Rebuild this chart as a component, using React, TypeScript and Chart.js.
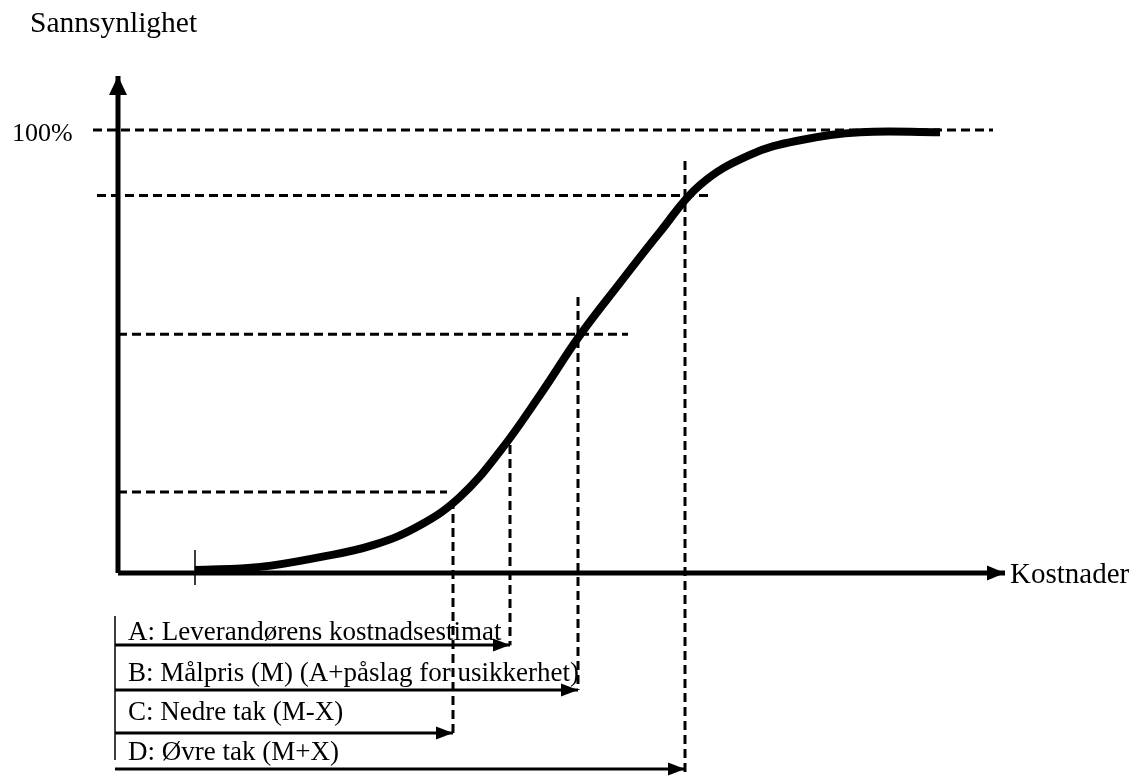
import { useEffect, useRef } from "react";
import { Chart, registerables } from "chart.js";

Chart.register(...registerables);

// S-curve: cumulative probability (%) against cost (arbitrary cost units)
const curveCost = [7.7, 14.2, 20.2, 25.5, 30.2, 34.2, 38.2, 42.2, 46.2, 50.2, 54.2, 58.2, 63.2, 68.2, 74.2, 82.2];
const curveProb = [0.7, 1.4, 3.6, 6.3, 10.8, 17.2, 27.5, 40.2, 53.7, 65.5, 77.0, 87.6, 94.4, 97.7, 99.5, 99.5];

// horizontal guide lines (probability levels)
const guideProb = [100, 85.2, 53.9, 18.3];
const guideFrom = [-2.5, -2.1, 0, 0];
const guideTo = [87.5, 59.2, 51.0, 32.9];

// markers A, B, C, D
const rowLabels = [
  "A: Leverandørens kostnadsestimat",
  "B: Målpris (M) (A+påslag for usikkerhet)",
  "C: Nedre tak (M-X)",
  "D: Øvre tak (M+X)",
];
const markerCost = [39.2, 46.0, 33.5, 56.7];
const markerTop = [28.9, 62.3, 16.5, 93.0];
const markerBottom = [-16.3, -26.4, -36.1, -45.6];
const arrowLevel = [-16.25, -26.4, -36.1, -44.2];
const rowTextLevel = [-15.1, -24.4, -33.2, -42.2];

// axis ends
const yAxisTop = 112.2;
const xAxisEnd = 88.7;
const startTick = 7.7;

const axisTitleY = "Sannsynlighet";
const axisTitleX = "Kostnader";
const topTick = "100%";

const FONT = "'Liberation Serif', 'Times New Roman', serif";

const arrowPlugin = {
  id: "arrowheads",
  afterDatasetsDraw(chart: any) {
    const ctx = chart.ctx;
    chart.data.datasets.forEach((ds: any, i: number) => {
      const head = ds.arrowHead;
      if (!head) return;
      const pts = chart.getDatasetMeta(i).data;
      const p = pts[pts.length - 1];
      const q = pts[pts.length - 2];
      const ang = Math.atan2(p.y - q.y, p.x - q.x);
      ctx.save();
      ctx.translate(p.x, p.y);
      ctx.rotate(ang);
      ctx.beginPath();
      ctx.moveTo(0, 0);
      ctx.lineTo(-head.len, -head.half);
      ctx.lineTo(-head.len, head.half);
      ctx.closePath();
      ctx.fillStyle = "#000";
      ctx.fill();
      ctx.restore();
    });
  },
};

const textPlugin = {
  id: "texts",
  afterDraw(chart: any) {
    const ctx = chart.ctx;
    const xs = chart.scales.x;
    const ys = chart.scales.y;
    const items: { t: string; x: number; y: number; size: number }[] = [
      { t: axisTitleY, x: -8.8, y: 122.2, size: 29.5 },
      { t: topTick, x: -10.6, y: 97.5, size: 26 },
      { t: axisTitleX, x: 89.2, y: -2.2, size: 29 },
      ...rowLabels.map((t, i) => ({ t, x: 1.0, y: rowTextLevel[i], size: 27 })),
    ];
    ctx.save();
    ctx.fillStyle = "#000";
    ctx.textBaseline = "alphabetic";
    ctx.textAlign = "left";
    items.forEach((it) => {
      ctx.font = `${it.size}px ${FONT}`;
      ctx.fillText(it.t, xs.getPixelForValue(it.x), ys.getPixelForValue(it.y));
    });
    ctx.restore();
  },
};

export default function App() {
  const ref = useRef<HTMLCanvasElement | null>(null);

  useEffect(() => {
    document.body.style.margin = "0";
    if (!ref.current) return;

    const solid = (data: { x: number; y: number }[], width: number, extra: any = {}) => ({
      data,
      borderColor: "#000",
      borderWidth: width,
      pointRadius: 0,
      fill: false,
      tension: 0,
      borderCapStyle: "butt",
      ...extra,
    });
    const dashed = (data: { x: number; y: number }[]) =>
      solid(data, 3, { borderDash: [9, 5] });

    const datasets: any[] = [
      solid(
        curveCost.map((x, i) => ({ x, y: curveProb[i] })),
        8,
        { tension: 0.4 }
      ),
      solid([{ x: 0, y: 0 }, { x: 0, y: yAxisTop }], 5, { arrowHead: { len: 19, half: 9 } }),
      solid([{ x: 0, y: 0 }, { x: xAxisEnd, y: 0 }], 5, { arrowHead: { len: 18, half: 7.5 } }),
      solid([{ x: startTick, y: 5.2 }, { x: startTick, y: -2.7 }], 1.5),
      solid([{ x: -0.3, y: -9.7 }, { x: -0.3, y: -42.2 }], 1.5),
      ...markerCost.map((c, i) =>
        solid([{ x: -0.3, y: arrowLevel[i] }, { x: c, y: arrowLevel[i] }], 3, {
          arrowHead: { len: 17, half: 6.5 },
        })
      ),
      ...markerCost.map((c, i) => dashed([{ x: c, y: markerTop[i] }, { x: c, y: markerBottom[i] }])),
      ...guideProb.map((p, i) => dashed([{ x: guideFrom[i], y: p }, { x: guideTo[i], y: p }])),
    ];

    const chart = new Chart(ref.current, {
      type: "line",
      data: { datasets },
      options: {
        animation: false,
        responsive: true,
        maintainAspectRatio: false,
        events: [],
        layout: { padding: 0 },
        plugins: { legend: { display: false }, tooltip: { enabled: false } },
        scales: {
          x: { type: "linear", min: -11.8, max: 102.1, display: false },
          y: { type: "linear", min: -46.7, max: 129.35, display: false },
        },
      },
      plugins: [arrowPlugin, textPlugin],
    } as any);

    return () => chart.destroy();
  }, []);

  return (
    <div style={{ width: 1139, height: 780, position: "relative", background: "#fff" }}>
      <canvas ref={ref} />
    </div>
  );
}
